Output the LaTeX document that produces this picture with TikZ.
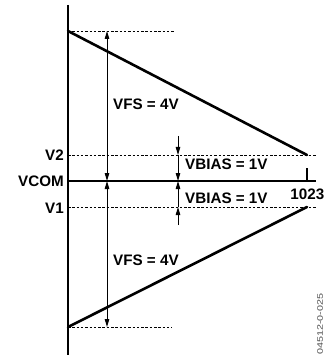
\documentclass[tikz,border=0pt]{standalone}
\usepackage{fontspec}
\setmainfont{Liberation Sans}
\newfontfamily\lblfont{Liberation Sans Bold}
\usetikzlibrary{arrows.meta}
\begin{document}
\begin{tikzpicture}[x=1pt,y=-1pt,
  lbl/.style={font=\lblfont\fontsize{15.2}{16}\selectfont, inner sep=0pt},
  axis/.style={line width=2.2pt},
  ramp/.style={line width=2.6pt, line cap=round},
  dotline/.style={line width=0.9pt, dash pattern=on 2.5pt off 1.8pt},
  dim/.style={line width=0.9pt, -{Triangle[length=8pt,width=4.5pt]}},
  dimboth/.style={line width=0.9pt, {Triangle[length=8pt,width=4.5pt]}-{Triangle[length=8pt,width=4.5pt]}}]
\useasboundingbox (0,0) rectangle (325,358);
% coordinates
\coordinate (axtop) at (68,5);
\coordinate (axbot) at (68,355);
\coordinate (top) at (68,31);
\coordinate (topd) at (174,31);
\coordinate (bot) at (68,327);
\coordinate (botd) at (172,327);
\coordinate (v2) at (68,155);
\coordinate (v2d) at (316,155);
\coordinate (v1) at (68,207);
\coordinate (v1d) at (316,207);
\coordinate (vc) at (68,181);
\coordinate (vcd) at (316,181);
\coordinate (e2) at (307,155);
\coordinate (e1) at (307,207);
\coordinate (tk1) at (307,168);
\coordinate (tk2) at (307,181);
\coordinate (fa) at (107,31);
\coordinate (fb) at (107,181);
\coordinate (fc) at (107,327);
\coordinate (ba) at (178,136);
\coordinate (bb) at (178,155);
\coordinate (bc) at (178,181);
\coordinate (bd) at (178,207);
\coordinate (be) at (178,225);
% dotted guides
\draw[dotline] (top) -- (topd);
\draw[dotline] (bot) -- (botd);
\draw[dotline] (v2) -- (v2d);
\draw[dotline] (v1) -- (v1d);
% axes
\draw[line width=1.8pt] (vc) -- (vcd);
\draw[line width=1.2pt] (tk1) -- (tk2);
\draw[axis] (axtop) -- (axbot);
% ramps
\draw[ramp] (top) -- (e2);
\draw[ramp] (bot) -- (e1);
% dimension arrows
\draw[dimboth] (fa) -- (fb);
\draw[dimboth] (fb) -- (fc);
\draw[dim] (ba) -- (bb);
\draw[dim] (bb) -- (bc);
\draw[dim] (bd) -- (bc);
\draw[dim] (be) -- (bd);
% labels
\node[lbl, anchor=east] (lv2) at (64,155) {V2};
\node[lbl, anchor=east] (lvc) at (64,181) {VCOM};
\node[lbl, anchor=east] (lv1) at (64,208) {V1};
\node[lbl, anchor=west] (lf1) at (113,104) {VFS = 4V};
\node[lbl, anchor=west] (lf2) at (113,260) {VFS = 4V};
\node[lbl, anchor=west] (lb1) at (185,164) {VBIAS = 1V};
\node[lbl, anchor=west] (lb2) at (185,198) {VBIAS = 1V};
\node[lbl, anchor=east] (l1023) at (324.5,194) {1023};
\node[rotate=90, inner sep=0pt, text=black!70, font=\fontsize{8}{8}\selectfont] (id) at (320,324) {\scalebox{1.35}[1]{04512-0-025}};
\end{tikzpicture}
\end{document}
